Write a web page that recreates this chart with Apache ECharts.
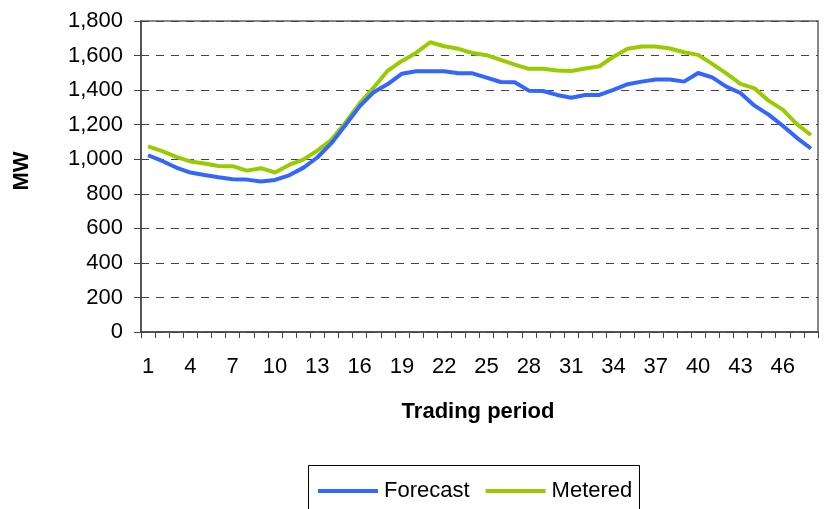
<!DOCTYPE html>
<html>
<head>
<meta charset="utf-8">
<script src="https://cdn.jsdelivr.net/npm/echarts@6/dist/echarts.min.js"></script>
<style>
html,body{margin:0;padding:0;background:#fff;}
#chart{width:829px;height:509px;}
</style>
</head>
<body>
<div id="chart"></div>
<script>
const categories = ['1','2','3','4','5','6','7','8','9','10','11','12','13','14','15','16','17','18','19','20','21','22','23','24','25','26','27','28','29','30','31','32','33','34','35','36','37','38','39','40','41','42','43','44','45','46','47','48'];
const forecast = [1023,990,952,923,909,896,884,882,871,880,907,950,1010,1093,1198,1306,1388,1435,1495,1509,1509,1509,1497,1497,1472,1447,1445,1397,1395,1372,1356,1372,1372,1402,1434,1449,1461,1461,1449,1499,1474,1420,1383,1310,1258,1194,1124,1062];
const metered = [1074,1047,1014,987,975,961,960,934,948,923,967,998,1050,1112,1213,1323,1415,1513,1569,1615,1677,1654,1639,1615,1602,1575,1548,1523,1523,1513,1511,1525,1538,1593,1639,1652,1652,1641,1619,1604,1552,1497,1436,1410,1339,1287,1203,1140];
const yTicks = {min: 0, max: 1800, interval: 200};
const seriesNames = ['Forecast', 'Metered'];
const xTitle = 'Trading period';
const yTitle = 'MW';

const FONT = 'Liberation Sans, Arial, sans-serif';
const chart = echarts.init(document.getElementById('chart'), null, {renderer: 'canvas'});
chart.setOption({
  animation: false,
  backgroundColor: '#ffffff',
  grid: {left: 141, right: 11, top: 21, bottom: 177, show: true, borderColor: '#888', borderWidth: 2},
  xAxis: {
    type: 'category',
    data: categories,
    boundaryGap: true,
    axisLine: {lineStyle: {color: '#444', width: 1.5}},
    axisTick: {show: true, interval: 0, length: 6, inside: false, lineStyle: {color: '#444', width: 1}},
    axisLabel: {interval: 2, margin: 24, color: '#000', fontSize: 22, fontFamily: FONT},
    splitLine: {show: false}
  },
  yAxis: {
    type: 'value',
    min: yTicks.min, max: yTicks.max, interval: yTicks.interval,
    axisLine: {show: true, lineStyle: {color: '#444', width: 1.5}},
    axisTick: {show: true, length: 7, lineStyle: {color: '#444', width: 1}},
    axisLabel: {margin: 18, color: '#000', fontSize: 22, fontFamily: FONT,
      formatter: v => v.toLocaleString('en-US')},
    splitLine: {show: true, lineStyle: {color: '#444', width: 1, type: [8, 7]}}
  },
  legend: {
    data: seriesNames,
    left: 318, top: 480, padding: 0,
    icon: 'rect',
    itemWidth: 60, itemHeight: 4, itemGap: 16,
    textStyle: {color: '#000', fontSize: 22, fontFamily: FONT, padding: [0, 0, 0, 1]}
  },
  graphic: [
    {type: 'rect', shape: {x: 308.5, y: 465.5, width: 331, height: 60}, style: {fill: 'none', stroke: '#000', lineWidth: 1}, z: -1},
    {type: 'text', x: 478, y: 412, style: {text: xTitle, x: 0, y: 0, textAlign: 'center', textVerticalAlign: 'middle', font: 'bold 22px ' + FONT, fill: '#000'}},
    {type: 'text', x: 22, y: 171, rotation: Math.PI / 2, style: {text: yTitle, x: 0, y: 0, textAlign: 'center', textVerticalAlign: 'middle', font: 'bold 22px ' + FONT, fill: '#000'}}
  ],
  series: [
    {name: seriesNames[0], type: 'line', data: forecast, symbol: 'none', lineStyle: {color: '#3366FF', width: 4}, itemStyle: {color: '#3366FF'}, z: 3},
    {name: seriesNames[1], type: 'line', data: metered, symbol: 'none', lineStyle: {color: '#99CC00', width: 4}, itemStyle: {color: '#99CC00'}, z: 2}
  ]
});
</script>
</body>
</html>
